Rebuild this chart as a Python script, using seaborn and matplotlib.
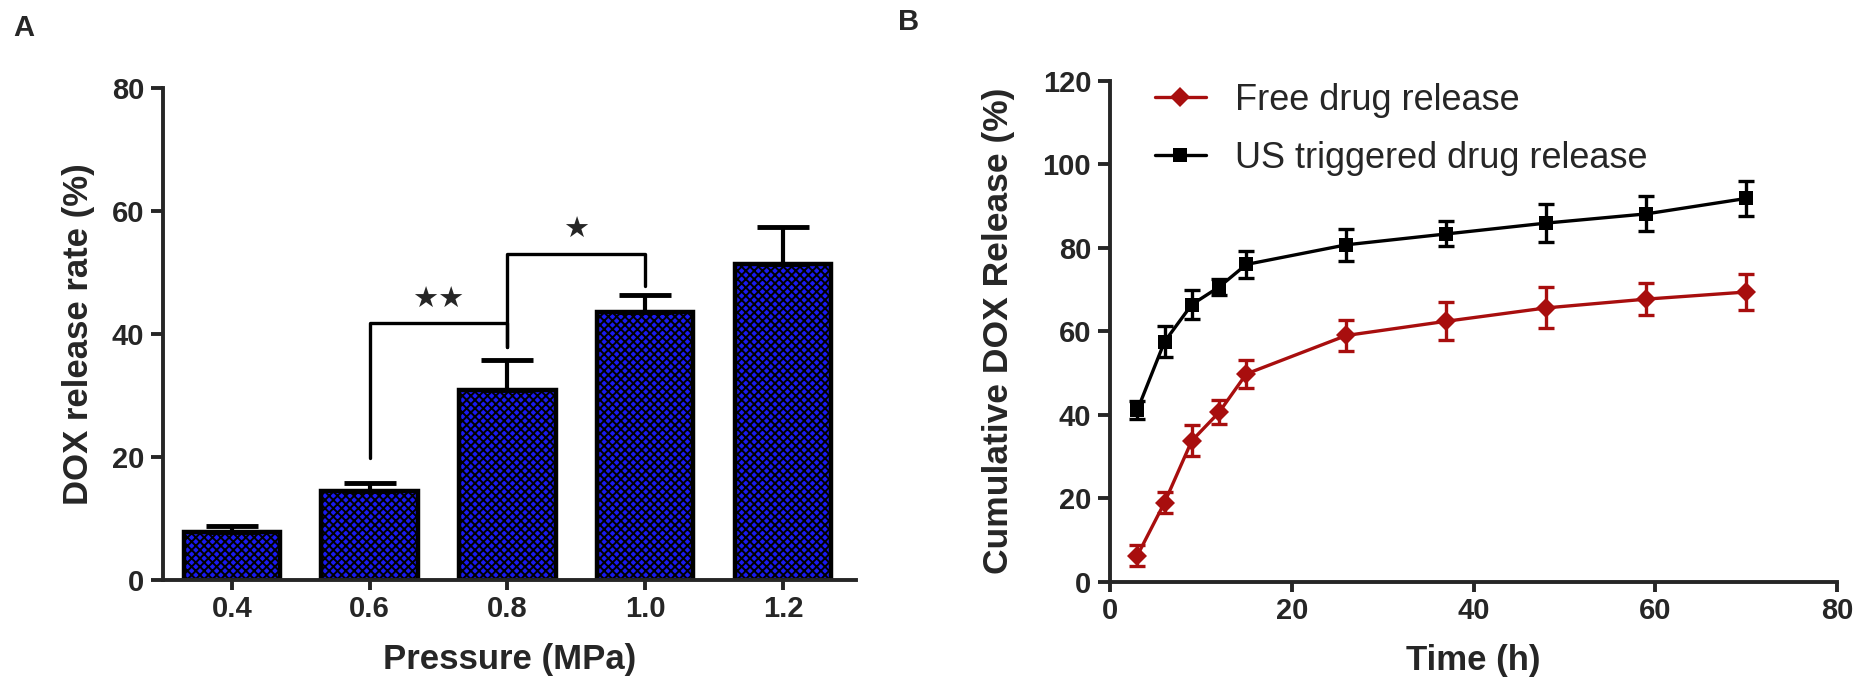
import numpy as np
import pandas as pd
import matplotlib
matplotlib.use('Agg')
import matplotlib.pyplot as plt
import seaborn as sns

# Panel A data: release rate vs pressure
pressure = ['0.4', '0.6', '0.8', '1.0', '1.2']
release_rate = [7.8, 14.5, 30.8, 43.5, 51.3]
release_err = [1.0, 1.3, 4.9, 2.9, 6.1]

# significance brackets (left bar, right bar, left leg bottom, right leg bottom, top, label)
brackets = [
    (1, 2, 19.9, 37.8, 41.7, '★★'),
    (2, 3, 37.8, 47.8, 53.0, '★'),
]

# Panel B data: cumulative release over time
time_h = [3, 6, 9, 12, 15, 26, 37, 48, 59, 70]
free_release = [6.3, 19.0, 33.8, 40.6, 49.8, 59.0, 62.4, 65.6, 67.7, 69.4]
free_err = [2.5, 2.6, 3.7, 2.9, 3.4, 3.8, 4.6, 4.9, 3.8, 4.2]
us_release = [41.1, 57.5, 66.4, 70.6, 76.0, 80.7, 83.3, 85.9, 88.1, 91.8]
us_err = [2.2, 3.7, 3.4, 2.0, 3.3, 3.9, 3.0, 4.6, 4.2, 4.2]

sns.set_style('ticks')
plt.rcParams['font.family'] = ['Liberation Sans', 'DejaVu Sans']
plt.rcParams['hatch.linewidth'] = 1.4
plt.rcParams['axes.linewidth'] = 2.8

fig = plt.figure(figsize=(18.69, 6.92), dpi=100)
ax1 = fig.add_axes([0.0872, 0.162, 0.3708, 0.711])
ax2 = fig.add_axes([0.5939, 0.159, 0.389, 0.7245])

# ---- Panel A ----
df_a = pd.DataFrame({'pressure': pressure, 'rate': release_rate})
sns.barplot(data=df_a, x='pressure', y='rate', ax=ax1, color='#1a1af0',
            width=0.7, errorbar=None, edgecolor='black', linewidth=3.2, hatch='xxxx',
            saturation=1)
ax1.errorbar(range(len(pressure)), release_rate, yerr=[np.zeros(len(release_err)), release_err],
             fmt='none', ecolor='black', elinewidth=3, capsize=19, capthick=3.5, zorder=5)

for l, r, yl, yr, top, lab in brackets:
    ax1.plot([l, l, r, r], [yl, top, top, yr], color='black', lw=2.4, zorder=6)
    ax1.text((l + r) / 2, top + 1.6, lab, ha='center', va='bottom', fontsize=21,
             family=['DejaVu Sans'])

ax1.set_ylim(0, 80)
ax1.set_xlim(-0.5, 4.53)
ax1.set_yticks([0, 20, 40, 60, 80])
ax1.set_xlabel('Pressure (MPa)', fontsize=25, fontweight='bold')
ax1.set_ylabel('DOX release rate (%)', fontsize=25, fontweight='bold')
ax1.xaxis.set_label_coords(0.5, -0.128)
ax1.yaxis.set_label_coords(-0.098, 0.5)
ax1.tick_params(axis='both', labelsize=21, width=2.8, length=8.5)
ax1.tick_params(axis='x', length=7, pad=4)
ax1.tick_params(axis='y', pad=5)
for t in ax1.get_xticklabels() + ax1.get_yticklabels():
    t.set_fontweight('bold')
sns.despine(ax=ax1)

# ---- Panel B ----
df_b = pd.DataFrame({
    'time': time_h * 2,
    'release': free_release + us_release,
    'group': ['Free drug release'] * len(time_h) + ['US triggered drug release'] * len(time_h),
})
sns.lineplot(data=df_b, x='time', y='release', hue='group', style='group',
             markers={'Free drug release': 'D', 'US triggered drug release': 's'},
             dashes=False, palette={'Free drug release': '#a80e0e', 'US triggered drug release': 'black'},
             markersize=10, markeredgewidth=0, linewidth=2.4, ax=ax2, errorbar=None)
ax2.errorbar(time_h, free_release, yerr=free_err, fmt='none', ecolor='#a80e0e',
             elinewidth=2.4, capsize=6, capthick=2.4)
ax2.errorbar(time_h, us_release, yerr=us_err, fmt='none', ecolor='black',
             elinewidth=2.4, capsize=6, capthick=2.4)

ax2.set_xlim(0, 80)
ax2.set_ylim(0, 120)
ax2.set_xticks([0, 20, 40, 60, 80])
ax2.set_yticks([0, 20, 40, 60, 80, 100, 120])
ax2.set_xlabel('Time (h)', fontsize=25, fontweight='bold')
ax2.set_ylabel('Cumulative DOX Release (%)', fontsize=25.5, fontweight='bold')
ax2.xaxis.set_label_coords(0.5, -0.124)
ax2.yaxis.set_label_coords(-0.131, 0.5)
ax2.tick_params(axis='both', labelsize=21, width=2.8, length=8.5)
ax2.tick_params(axis='x', length=7, pad=4)
ax2.tick_params(axis='y', pad=5)
for t in ax2.get_xticklabels() + ax2.get_yticklabels():
    t.set_fontweight('bold')
leg = ax2.legend(loc='upper left', bbox_to_anchor=(0.062, 0.995), frameon=False,
                 fontsize=26, handlelength=1.4, handletextpad=0.8, labelspacing=0.62,
                 borderaxespad=0, borderpad=0)
sns.despine(ax=ax2)

fig.text(0.0127, 0.959, 'A', fontsize=21, fontweight='bold', ha='center', va='center')
fig.text(0.486, 0.968, 'B', fontsize=21, fontweight='bold', ha='center', va='center')

fig.savefig('out.png', dpi=100)
